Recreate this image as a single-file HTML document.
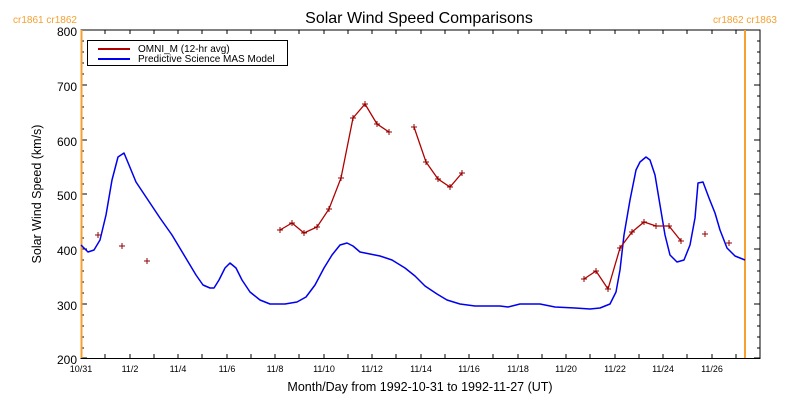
<!DOCTYPE html>
<html><head><style>body{margin:0;background:#fff}svg{display:block}text{font-family:"Liberation Sans",sans-serif}</style></head><body>
<svg width="800" height="400" viewBox="0 0 800 400" xmlns="http://www.w3.org/2000/svg">
<rect width="800" height="400" fill="#fff"/>
<text x="419" y="23" font-size="16" text-anchor="middle" fill="#000">Solar Wind Speed Comparisons</text>
<text x="45" y="23" font-size="10" fill="#f5a030" text-anchor="middle">cr1861 cr1862</text>
<text x="745" y="23" font-size="10" fill="#f5a030" text-anchor="middle">cr1862 cr1863</text>
<g stroke="#000" fill="none">
<rect x="81" y="30" width="679" height="328.5" stroke-width="1"/>
<path d="M81 30h6M81 85h6M81 140h6M81 194h6M81 249h6M81 304h6M81 358h6M760 30h-6M760 85h-6M760 140h-6M760 194h-6M760 249h-6M760 304h-6M760 358h-6"/>
<path d="M81 41h3M81 52h3M81 63h3M81 74h3M81 96h3M81 107h3M81 118h3M81 129h3M81 151h3M81 162h3M81 173h3M81 184h3M81 205h3M81 216h3M81 227h3M81 238h3M81 260h3M81 271h3M81 282h3M81 293h3M81 315h3M81 326h3M81 337h3M81 348h3M760 41h-3M760 52h-3M760 63h-3M760 74h-3M760 96h-3M760 107h-3M760 118h-3M760 129h-3M760 151h-3M760 162h-3M760 173h-3M760 184h-3M760 205h-3M760 216h-3M760 227h-3M760 238h-3M760 260h-3M760 271h-3M760 282h-3M760 293h-3M760 315h-3M760 326h-3M760 337h-3M760 348h-3"/>
<path d="M105 358v-4M130 358v-4M154 358v-4M178 358v-4M202 358v-4M227 358v-4M251 358v-4M275 358v-4M299 358v-4M324 358v-4M348 358v-4M372 358v-4M396 358v-4M421 358v-4M445 358v-4M469 358v-4M493 358v-4M518 358v-4M542 358v-4M566 358v-4M590 358v-4M615 358v-4M639 358v-4M663 358v-4M687 358v-4M712 358v-4M736 358v-4M105 30v4M130 30v4M154 30v4M178 30v4M202 30v4M227 30v4M251 30v4M275 30v4M299 30v4M324 30v4M348 30v4M372 30v4M396 30v4M421 30v4M445 30v4M469 30v4M493 30v4M518 30v4M542 30v4M566 30v4M590 30v4M615 30v4M639 30v4M663 30v4M687 30v4M712 30v4M736 30v4"/>
</g>
<g font-size="12" text-anchor="end" fill="#000">
<text x="77" y="36">800</text><text x="77" y="91">700</text><text x="77" y="146">600</text><text x="77" y="200">500</text><text x="77" y="255">400</text><text x="77" y="310">300</text><text x="77" y="364">200</text>
</g>
<g font-size="9" text-anchor="middle" fill="#000">
<text x="81" y="372">10/31</text><text x="130" y="372">11/2</text><text x="178" y="372">11/4</text><text x="227" y="372">11/6</text><text x="275" y="372">11/8</text><text x="324" y="372">11/10</text><text x="372" y="372">11/12</text><text x="421" y="372">11/14</text><text x="469" y="372">11/16</text><text x="518" y="372">11/18</text><text x="566" y="372">11/20</text><text x="615" y="372">11/22</text><text x="663" y="372">11/24</text><text x="712" y="372">11/26</text>
</g>
<text x="420" y="391" font-size="12.5" text-anchor="middle">Month/Day from 1992-10-31 to 1992-11-27 (UT)</text>
<text transform="translate(41,194) rotate(-90)" font-size="12.5" text-anchor="middle">Solar Wind Speed (km/s)</text>
<line x1="81.5" y1="30" x2="81.5" y2="358" stroke="#f5a030" stroke-width="2"/>
<line x1="745" y1="30" x2="745" y2="358" stroke="#f5a030" stroke-width="2"/>
<polyline fill="none" stroke="#0000ee" stroke-width="1.5" stroke-linejoin="round" points="81,245 88,252 94,250 100,240 106,215 112,180 118,157 124,153 129,165 136,182 148,200 160,218 172,235 184,255 196,275 203,285 210,288 214,288 219,280 225,268 230,263 236,268 242,280 250,292 260,300 270,304 285,304 297,302 306,297 315,285 324,268 332,255 340,245 347,243 353,246 360,252 370,254 380,256 392,260 405,268 415,276 425,286 437,294 447,300 460,304 475,306 500,306 508,307 520,304 540,304 555,307 575,308 590,309 600,308 610,304 616,292 620,270 624,235 630,200 636,170 640,162 646,157 650,160 655,175 660,205 665,235 670,255 677,262 684,260 690,245 695,218 698,183 703,182 709,198 715,213 720,230 727,248 735,256 745,260"/>
<g fill="none" stroke="#b00000" stroke-width="1.3">
<polyline points="280,230 292,223 304,233 317,227 329,209 341,178 353,118 365,104 377,124 389,132"/>
<polyline points="414,127 426,162 438,179 450,187 462,173"/>
<polyline points="584,279 596,271 608,289 620,248 632,232 644,222 656,226 669,226 681,241"/>
</g>
<g stroke="#900000" stroke-width="1">
<path d="M277 230h6M280 227v6M289 223h6M292 220v6M301 233h6M304 230v6M314 227h6M317 224v6M326 209h6M329 206v6M338 178h6M341 175v6M350 118h6M353 115v6M362 104h6M365 101v6M374 124h6M377 121v6M386 132h6M389 129v6M411 127h6M414 124v6M423 162h6M426 159v6M435 179h6M438 176v6M447 187h6M450 184v6M459 173h6M462 170v6M581 279h6M584 276v6M593 271h6M596 268v6M605 289h6M608 286v6M617 248h6M620 245v6M629 232h6M632 229v6M641 222h6M644 219v6M653 226h6M656 223v6M666 226h6M669 223v6M678 241h6M681 238v6M95 235h6M98 232v6M119 246h6M122 243v6M144 261h6M147 258v6M702 234h6M705 231v6M726 243h6M729 240v6"/>
</g>
<rect x="87.5" y="40.5" width="200" height="25" fill="#fff" stroke="#000"/>
<line x1="98" y1="49" x2="130" y2="49" stroke="#b00000" stroke-width="2"/>
<line x1="98" y1="59" x2="130" y2="59" stroke="#0000ee" stroke-width="2"/>
<text x="138" y="52" font-size="10">OMNI_M (12-hr avg)</text>
<text x="138" y="62" font-size="10">Predictive Science MAS Model</text>
</svg>
</body></html>
